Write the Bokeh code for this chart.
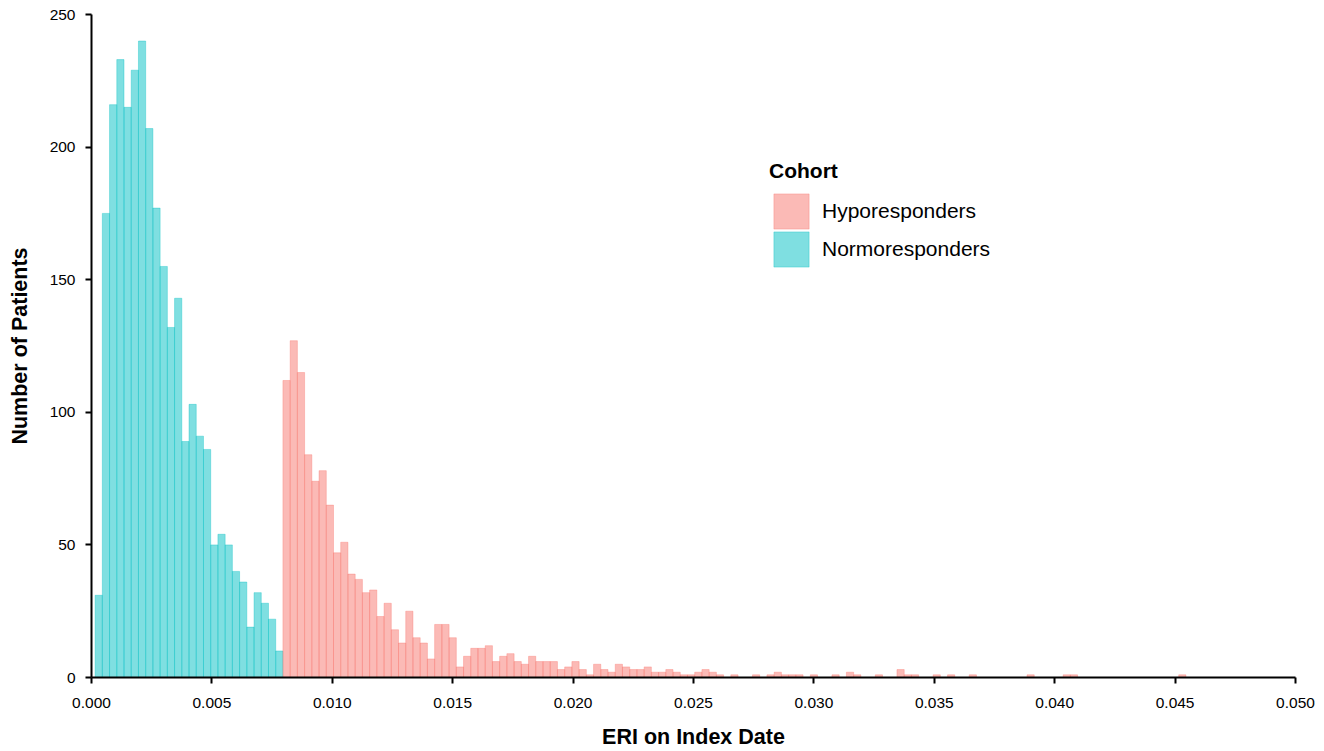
from bokeh.plotting import figure
from bokeh.models import ColumnDataSource, Range1d, Legend, LegendItem, FixedTicker, NumeralTickFormatter
from bokeh.embed import file_html
from bokeh.resources import INLINE

# Histogram bins (ERI on Index Date)
bin_width = 0.0003
first_edge = 0.00015

normo_counts = [31, 175, 216, 233, 215, 229, 240, 207, 177, 155,
                132, 143, 89, 103, 91, 86, 50, 54, 50, 40,
                36, 19, 32, 28, 22, 10]

hypo_counts = [112, 127, 115, 84, 74, 78, 65, 47, 51, 39,
               37, 32, 33, 23, 28, 18, 13, 25, 15, 13,
               7, 20, 20, 15, 4, 8, 11, 11, 12, 6,
               8, 9, 6, 5, 8, 6, 6, 6, 3, 4,
               6, 3, 1, 5, 3, 2, 5, 4, 3, 3,
               4, 2, 2, 3, 2, 1, 1, 2, 3, 2,
               1, 0, 1, 0, 0, 1, 0, 1, 2, 1,
               1, 1, 0, 1, 0, 0, 1, 0, 2, 1,
               0, 0, 1, 0, 0, 3, 1, 1, 0, 0,
               1, 0, 1, 0, 0, 1, 0, 0, 0, 0,
               0, 0, 0, 1, 0, 0, 0, 0, 1, 1,
               0, 0, 0, 0, 0, 0, 0, 0, 0, 0,
               0, 0, 0, 0, 1]

cohort_names = ["Hyporesponders", "Normoresponders"]
cohort_colors = ["#F8766D", "#00BFC4"]

x_ticks = [0.000, 0.005, 0.010, 0.015, 0.020, 0.025, 0.030, 0.035, 0.040, 0.045, 0.050]
y_ticks = [0, 50, 100, 150, 200, 250]


def bars(counts, offset):
    xs, tops = [], []
    for i, c in enumerate(counts):
        if c > 0:
            xs.append(first_edge + (offset + i + 0.5) * bin_width)
            tops.append(c)
    return ColumnDataSource(dict(x=xs, top=tops))


normo_src = bars(normo_counts, 0)
hypo_src = bars(hypo_counts, len(normo_counts))

p = figure(width=1324, height=751, output_backend="svg", toolbar_location=None,
           x_range=Range1d(0, 0.05), y_range=Range1d(0, 250),
           min_border_left=91, min_border_right=29, min_border_top=14, min_border_bottom=74)

r_normo = p.vbar(x="x", top="top", bottom=0, width=bin_width, source=normo_src,
                 fill_color=cohort_colors[1], fill_alpha=0.5,
                 line_color=cohort_colors[1], line_alpha=0.5, line_width=0.7)
r_hypo = p.vbar(x="x", top="top", bottom=0, width=bin_width, source=hypo_src,
                fill_color=cohort_colors[0], fill_alpha=0.5,
                line_color=cohort_colors[0], line_alpha=0.5, line_width=0.7)

p.xgrid.visible = False
p.ygrid.visible = False
p.outline_line_color = None
p.background_fill_color = "white"

FONT = "Liberation Sans"
for ax in (p.xaxis[0], p.yaxis[0]):
    ax.axis_line_width = 2
    ax.axis_line_color = "black"
    ax.major_tick_line_width = 2
    ax.major_tick_line_color = "black"
    ax.major_tick_in = 0
    ax.major_tick_out = 6
    ax.minor_tick_line_color = None
    ax.major_label_text_font = FONT
    ax.major_label_text_font_size = "15.5px"
    ax.major_label_text_color = "black"
    ax.axis_label_text_font = FONT
    ax.axis_label_text_font_style = "bold"
    ax.axis_label_text_font_size = "21.5px"
    ax.axis_label_text_color = "black"

p.xaxis.ticker = FixedTicker(ticks=x_ticks)
p.xaxis.formatter = NumeralTickFormatter(format="0.000")
p.yaxis.ticker = FixedTicker(ticks=y_ticks)
p.xaxis.axis_label = "ERI on Index Date"
p.yaxis.axis_label = "Number of Patients"
p.xaxis.major_label_standoff = 14
p.xaxis.axis_label_standoff = 14
p.yaxis.major_label_standoff = 10
p.yaxis.axis_label_standoff = 15

common = dict(label_text_font=FONT, label_text_font_size="21px", label_text_color="black",
              glyph_width=44, glyph_height=44, spacing=0, padding=0, margin=0,
              label_standoff=9, border_line_color=None, background_fill_alpha=0)

legend_a = Legend(items=[LegendItem(label=cohort_names[0], renderers=[r_hypo])],
                  location=(678, 444), title="Cohort",
                  title_text_font=FONT, title_text_font_style="bold", title_text_font_size="21px",
                  title_text_color="black", title_standoff=6, **common)
legend_b = Legend(items=[LegendItem(label=cohort_names[1], renderers=[r_normo])],
                  location=(678, 406), **common)
p.add_layout(legend_a)
p.add_layout(legend_b)

open("out.html", "w").write(file_html(p, INLINE))
